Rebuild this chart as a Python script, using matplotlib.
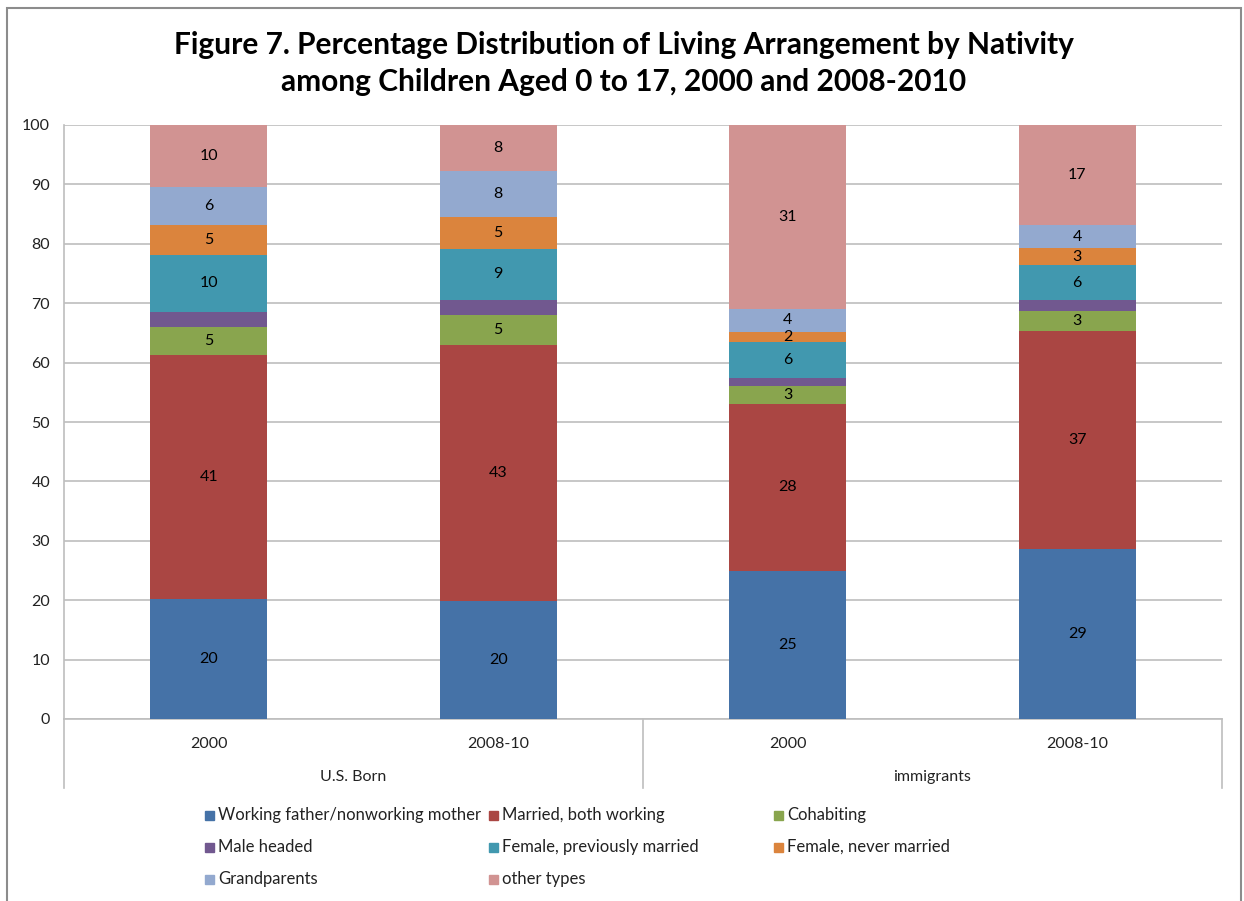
import matplotlib.pyplot as plt
from matplotlib.patches import Rectangle
import numpy as np

plt.rcParams['font.family'] = ['Lato', 'DejaVu Sans']

years = ['2000', '2008-10', '2000', '2008-10']
groups = ['U.S. Born', 'immigrants']

series = ['Working father/nonworking mother', 'Married, both working', 'Cohabiting',
          'Male headed', 'Female, previously married', 'Female, never married',
          'Grandparents', 'other types']
colors = ['#4572A7', '#AA4643', '#89A54E', '#71588F', '#4198AF', '#DB843D', '#93A9CF', '#D19392']

# percent of children, one list per bar (bottom to top)
working_father = [20.2, 19.9, 25.0, 28.6]
married_both = [41.15, 43.0, 28.0, 36.8]
cohabiting = [4.6, 5.1, 3.05, 3.35]
male_headed = [2.55, 2.5, 1.35, 1.75]
female_prev = [9.65, 8.7, 6.0, 5.85]
female_never = [4.95, 5.3, 1.8, 2.95]
grandparents = [6.45, 7.75, 3.8, 3.8]
other_types = [10.45, 7.75, 31.0, 16.9]

values = [working_father, married_both, cohabiting, male_headed,
          female_prev, female_never, grandparents, other_types]
show_label = [True, True, True, False, True, True, True, True]

fig = plt.figure(figsize=(12.44, 9.01), dpi=100)
ax = fig.add_axes([64/1244, 1-719/901, (1222-64)/1244, (719-125)/901])

x = np.arange(len(years))
bottom = np.zeros(len(years))
for vals, col, lab in zip(values, colors, show_label):
    vals = np.array(vals)
    ax.bar(x, vals, width=0.405, bottom=bottom, color=col, zorder=3)
    if lab:
        for xi, b, v in zip(x, bottom, vals):
            ax.text(xi, b + v/2, '%.0f' % v, ha='center', va='center',
                    fontsize=11.5, color='black', zorder=4)
    bottom += vals

ax.set_xlim(-0.5, 3.5)
ax.set_ylim(0, 100)
ax.set_yticks(range(0, 101, 10))
ax.yaxis.grid(True, color='#BEBEBE', linewidth=1.2, zorder=0)
ax.set_xticks([])
ax.tick_params(axis='y', length=0, pad=10, labelsize=11.5, colors='#222222')
for s in ['top', 'right']:
    ax.spines[s].set_visible(False)
ax.spines['left'].set_color('#BEBEBE')
ax.spines['bottom'].set_color('#BEBEBE')
ax.spines['left'].set_linewidth(1.2)
ax.spines['bottom'].set_linewidth(1.2)

# two-level category axis
for xi, yr in zip(x, years):
    ax.text(xi, -0.042, yr, transform=ax.get_xaxis_transform(), ha='center', va='center',
            fontsize=11.5, color='#222222')
for gi, g in enumerate(groups):
    ax.text(0.5 + 2*gi, -0.097, g, transform=ax.get_xaxis_transform(), ha='center',
            va='center', fontsize=11.5, color='#222222')
for xs in [-0.5, 1.5, 3.5]:
    ax.plot([xs, xs], [0, -0.116], transform=ax.get_xaxis_transform(), color='#BEBEBE',
            linewidth=1.2, clip_on=False)

fig.text(624/1244, 1-45/901, 'Figure 7. Percentage Distribution of Living Arrangement by Nativity',
         ha='center', va='center', fontsize=21.5, fontweight='bold')
fig.text(624/1244, 1-82/901, 'among Children Aged 0 to 17, 2000 and 2008-2010',
         ha='center', va='center', fontsize=21.5, fontweight='bold')

# legend laid out in three columns
leg_x = [209, 493, 778]
leg_y = [815, 847, 879]
for i, (name, col) in enumerate(zip(series, colors)):
    r, c = divmod(i, 3)
    px, py = leg_x[c], leg_y[r]
    fig.patches.append(Rectangle(((px-4.5)/1244, 1-(py+4.5)/901), 9/1244, 9/901,
                                 transform=fig.transFigure, color=col))
    fig.text((px+9)/1244, 1-py/901, name, ha='left', va='center', fontsize=12, color='#222222')

# chart area frame
fig.patches.append(Rectangle((7/1244, -0.01), 1234/1244, 1.01-8/901, transform=fig.transFigure,
                             fill=False, edgecolor='#8C8C8C', linewidth=1.5))

fig.savefig('out.png', dpi=100)
